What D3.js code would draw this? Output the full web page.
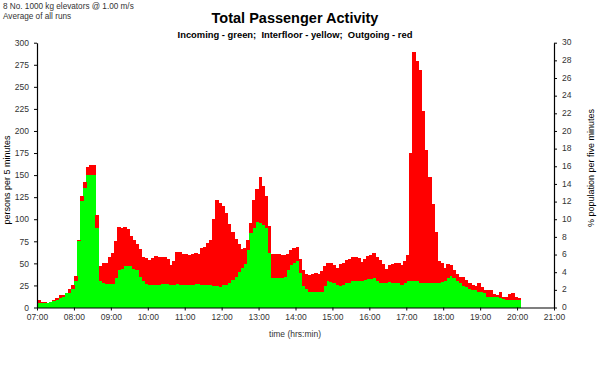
<!DOCTYPE html>
<html>
<head>
<meta charset="utf-8">
<script src="https://cdn.jsdelivr.net/npm/d3@7"></script>
<style>
  html, body { margin: 0; padding: 0; background: #fff; }
  svg { display: block; }
  text { font-family: "Liberation Sans", Arial, sans-serif; }
</style>
</head>
<body>
<svg id="chart" width="602" height="371"></svg>
<script>
// ---- data (5-minute intervals starting 07:00) ----
const startHour = 7;
const intervalMinutes = 5;
const incoming = [
  5,5,5,5,6,7,9,11,12,16,16,21,
  30,75,121,135,150,150,150,90,30,28,27,27,
  27,33,43,44,47,47,47,44,42,35,30,27,
  26,25,26,26,27,27,27,25,26,27,26,25,
  25,25,26,27,27,26,25,26,25,24,24,23,
  25,26,28,31,34,40,45,49,65,84,90,97,
  96,93,90,62,33,33,33,33,35,42,48,50,
  53,39,24,21,18,18,18,18,18,24,30,29,
  28,26,24,26,28,28,30,30,30,30,31,32,
  32,33,30,28,28,28,29,28,28,28,25,28,
  30,30,30,30,28,28,28,28,28,28,28,29,
  30,33,36,33,30,28,24,23,21,20,20,18,
  18,16,12,12,12,12,11,10,9,9,9,9,
  9
];
const interfloor = incoming.map(() => 0);
const outgoing = [
  4,1,1,0,0,1,2,3,2,0,5,5,
  6,2,5,7,9,12,11,15,17,22,23,30,
  35,42,48,46,44,42,34,32,30,31,27,29,
  28,31,32,31,30,30,28,23,27,36,37,36,
  36,34,35,35,34,41,43,47,51,76,98,95,
  90,81,67,54,44,32,21,18,11,12,32,37,
  52,45,36,30,28,28,28,27,25,19,17,17,
  16,16,18,17,19,20,21,20,23,23,20,21,
  20,19,25,24,26,27,27,27,26,22,24,26,
  28,29,27,26,21,16,19,21,22,22,23,25,
  30,145,260,249,241,195,150,120,89,57,25,21,
  15,16,12,9,8,6,10,8,7,5,4,10,
  5,4,8,8,3,2,7,2,3,6,7,3,
  2
];
const hourTicks = d3.range(7, 22);
const leftTicks = d3.range(0, 301, 25);
const rightTicks = d3.range(0, 31, 2);
const titleText = "Total Passenger Activity";
const subtitleText = "Incoming - green;  Interfloor - yellow;  Outgoing - red";
const infoLines = ["8 No. 1000 kg elevators @ 1.00 m/s", "Average of all runs"];

// ---- layout ----
const svg = d3.select("#chart");
const W = 602, H = 371;
const plot = { left: 37, right: 554, top: 42.7, bottom: 307.5 };

const x = d3.scaleLinear().domain([7, 21]).range([plot.left, plot.right]);
const y = d3.scaleLinear().domain([0, 300]).range([plot.bottom, plot.top]);
const yPct = d3.scaleLinear().domain([0, 30]).range([plot.bottom, plot.top]);

svg.append("rect").attr("width", W).attr("height", H).attr("fill", "#fff");

// ---- bars ----
const rows = incoming.map((g, i) => {
  const t = startHour + i * intervalMinutes / 60;
  return { t, g, f: interfloor[i], o: outgoing[i] };
});
const bw = intervalMinutes / 60;
const barG = svg.append("g").attr("shape-rendering", "crispEdges");
function seg(cls, color, lo, hi) {
  barG.selectAll("rect." + cls).data(rows).join("rect")
    .attr("class", cls)
    .attr("x", d => x(d.t))
    .attr("width", d => x(d.t + bw) - x(d.t) + 0.6)
    .attr("y", d => y(hi(d)))
    .attr("height", d => Math.max(0, y(lo(d)) - y(hi(d))))
    .attr("fill", color);
}
seg("inc", "#00ff00", d => 0, d => d.g);
seg("itf", "#ffff00", d => d.g, d => d.g + d.f);
seg("out", "#ff0000", d => d.g + d.f, d => d.g + d.f + d.o);

// ---- axes ----
const tickColor = "#333";
const fmtHour = h => (h < 10 ? "0" : "") + h + ":00";

const xAxis = svg.append("g").attr("transform", `translate(0,${plot.bottom})`)
  .call(d3.axisBottom(x).tickValues(hourTicks).tickFormat(fmtHour).tickSize(3).tickSizeOuter(0).tickPadding(3));
const lAxis = svg.append("g").attr("transform", `translate(${plot.left},0)`)
  .call(d3.axisLeft(y).tickValues(leftTicks).tickSize(3).tickSizeOuter(0).tickPadding(5));
const rAxis = svg.append("g").attr("transform", `translate(${plot.right},0)`)
  .call(d3.axisRight(yPct).tickValues(rightTicks).tickSize(3).tickSizeOuter(0).tickPadding(5));

[xAxis, lAxis, rAxis].forEach(a => {
  a.select(".domain").attr("stroke", "#000").attr("stroke-width", 1.2);
  a.selectAll(".tick line").attr("stroke", "#000");
  a.selectAll("text").attr("fill", tickColor)
    .style("font-family", '"Liberation Sans", Arial, sans-serif')
    .style("font-size", "8.5px");
});
// right-axis labels sit slightly higher so the "0" clears the "21:00" label
rAxis.selectAll(".tick text").attr("dy", "0.25em");

// ---- titles ----
svg.append("text").attr("x", 295).attr("y", 23).attr("text-anchor", "middle")
  .style("font-size", "14.5px").style("font-weight", "bold").attr("fill", "#000")
  .text(titleText);
svg.append("text").attr("x", 295).attr("y", 38).attr("text-anchor", "middle")
  .style("font-size", "9.4px").style("font-weight", "bold").attr("fill", "#000")
  .attr("xml:space", "preserve").style("white-space", "pre")
  .text(subtitleText);

infoLines.forEach((s, i) => {
  svg.append("text").attr("x", 3).attr("y", 9 + i * 10)
    .style("font-size", "8.2px").attr("fill", "#333").text(s);
});

svg.append("text").attr("x", 295).attr("y", 337).attr("text-anchor", "middle")
  .style("font-size", "8.5px").attr("fill", "#333").text("time (hrs:min)");

svg.append("text").attr("transform", "translate(10,180) rotate(-90)").attr("text-anchor", "middle")
  .style("font-size", "9px").attr("fill", "#000").text("persons per 5 minutes");

svg.append("text").attr("transform", "translate(594,168) rotate(-90)").attr("text-anchor", "middle")
  .style("font-size", "9px").attr("fill", "#000").text("% population per five minutes");
</script>
</body>
</html>
